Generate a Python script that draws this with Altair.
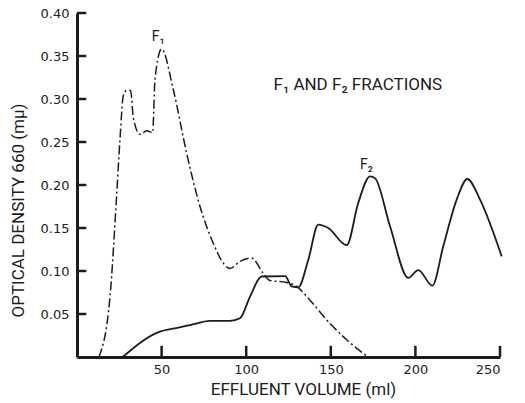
import altair as alt
import pandas as pd

# F1 fraction (dash-dot curve)
f1_x = [13, 19.5, 23.4, 25.4, 27.4, 29.3, 31.7, 33.3, 37.2, 41.2, 44.7, 46.1, 50, 56.9,
        64.8, 72.7, 80.6, 86.5, 90.4, 96.3, 103.2, 110, 114, 123.9, 129.8, 137.7,
        149.5, 159.4, 172]
f1_y = [0.0, 0.07, 0.187, 0.253, 0.304, 0.31, 0.31, 0.278, 0.259, 0.263, 0.261, 0.323,
        0.358, 0.311, 0.237, 0.175, 0.132, 0.109, 0.103, 0.111, 0.115, 0.0975, 0.089,
        0.0867, 0.082, 0.066, 0.039, 0.02, 0.0]

# F2 fraction (solid curve)
f2_x = [27, 49, 56.9, 66.8, 78.6, 90.4, 96.3, 102.2, 109.1, 123, 127, 130.8, 136.7,
        142.6, 148.5, 159.4, 166.2, 173.2, 176.1, 185, 195.8, 201.7, 210, 216.5, 224.4,
        230.7, 238.2, 251]
f2_y = [0.0, 0.0295, 0.033, 0.037, 0.042, 0.042, 0.045, 0.070, 0.0936, 0.094, 0.082,
        0.081, 0.113, 0.154, 0.15, 0.13, 0.179, 0.21, 0.208, 0.152, 0.092, 0.101, 0.083,
        0.129, 0.183, 0.207, 0.183, 0.117]

x_ticks = [50, 100, 150, 200, 250]
y_ticks = [0.05, 0.10, 0.15, 0.20, 0.25, 0.30, 0.35, 0.40]

peak_labels = ["F\u2081", "F\u2082"]
peak_x = [48, 171]
peak_y = [0.372, 0.223]
title_text = ["F\u2081 AND F\u2082 FRACTIONS"]
title_x = [166]
title_y = [0.316]

INK = "#1c1c1c"
NARROW = "Roboto, sans-serif"

f1 = pd.DataFrame({"v": f1_x, "od": f1_y})
f2 = pd.DataFrame({"v": f2_x, "od": f2_y})

xs = alt.Scale(domain=[0, 250], nice=False)
ys = alt.Scale(domain=[0, 0.40], nice=False)

xaxis = alt.Axis(values=x_ticks, ticks=False, grid=False, domainWidth=3, domainColor=INK,
                 labelFont="DejaVu Sans", labelFontSize=13, labelColor=INK, labelPadding=6,
                 title="EFFLUENT VOLUME (ml)", titleFont=NARROW, titleFontSize=17,
                 titleFontWeight="normal", titleColor=INK, titlePadding=5, titleX=226)
yaxis = alt.Axis(values=y_ticks, ticks=False, grid=False, domainWidth=3, domainColor=INK,
                 format=".2f", labelFont="DejaVu Sans", labelFontSize=13, labelColor=INK,
                 labelPadding=8, title="OPTICAL DENSITY  660 (m\u03bc)", titleFont=NARROW,
                 titleFontSize=17, titleFontWeight="normal", titleColor=INK,
                 titleX=-50, titleY=197)

line_f2 = alt.Chart(f2).mark_line(color=INK, strokeWidth=1.8, interpolate="monotone").encode(
    x=alt.X("v:Q", scale=xs, axis=xaxis),
    y=alt.Y("od:Q", scale=ys, axis=yaxis),
)
line_f1 = alt.Chart(f1).mark_line(color=INK, strokeWidth=1.5, strokeDash=[9, 3, 2, 3],
                                  interpolate="monotone").encode(
    x=alt.X("v:Q", scale=xs),
    y=alt.Y("od:Q", scale=ys),
)

# inward tick marks as short two-point line segments built from the tick lists
seg_rows = []
for t in x_ticks:
    seg_rows.append({"v": t, "od": 0.0, "grp": "x%s" % t, "k": 0})
    seg_rows.append({"v": t, "od": 0.013, "grp": "x%s" % t, "k": 1})
for t in y_ticks:
    seg_rows.append({"v": 0.0, "od": t, "grp": "y%s" % t, "k": 0})
    seg_rows.append({"v": 5.5, "od": t, "grp": "y%s" % t, "k": 1})
segs = pd.DataFrame(seg_rows)
tick_lines = alt.Chart(segs).mark_line(color=INK, strokeWidth=2.5).encode(
    x=alt.X("v:Q", scale=xs),
    y=alt.Y("od:Q", scale=ys),
    detail="grp:N",
    order="k:Q",
)

pk = pd.DataFrame({"t": peak_labels, "px": peak_x, "py": peak_y})
tt = pd.DataFrame({"t": title_text, "px": title_x, "py": title_y})
peak_text = alt.Chart(pk).mark_text(font=NARROW, color=INK, fontSize=14).encode(
    x=alt.X("px:Q", scale=xs), y=alt.Y("py:Q", scale=ys), text="t:N")
title_mark = alt.Chart(tt).mark_text(font=NARROW, color=INK, fontSize=17).encode(
    x=alt.X("px:Q", scale=xs), y=alt.Y("py:Q", scale=ys), text="t:N")

chart = alt.layer(line_f2, line_f1, tick_lines, peak_text, title_mark).properties(
    width=423, height=344,
    autosize=alt.AutoSizeParams(type="none"),
    padding={"left": 77, "top": 13, "right": 25, "bottom": 46},
    background="white",
).configure_view(strokeWidth=0)

chart.save("out.html", embed_options={"renderer": "svg", "actions": False})
